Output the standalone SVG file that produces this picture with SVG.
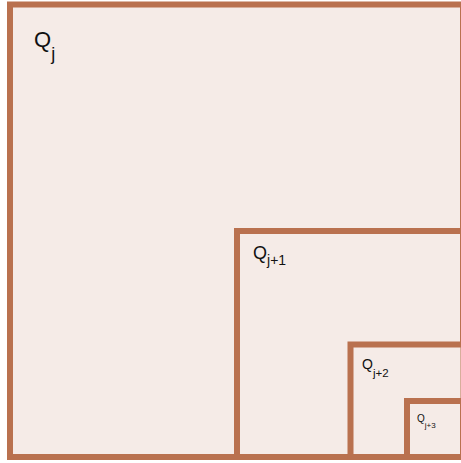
<svg xmlns="http://www.w3.org/2000/svg" width="461" height="463" viewBox="0 0 461 463">
<style>
.sq{fill:#f5ebe7;stroke:#b9714f;stroke-width:6}
.t{font-family:"Liberation Sans",Arial,sans-serif;fill:#111}
</style>
<rect x="0" y="0" width="461" height="463" fill="#ffffff"/>
<g id="Qj"><rect class="sq" x="10" y="4.5" width="453" height="452.5"/>
<text class="t" x="34" y="47" font-size="22">Q<tspan font-size="18" dy="13">j</tspan></text></g>
<g id="Qj1"><rect class="sq" x="237" y="231" width="226" height="226"/>
<text class="t" x="253" y="259" font-size="18">Q<tspan font-size="14" dy="6">j+1</tspan></text></g>
<g id="Qj2"><rect class="sq" x="350.5" y="344.5" width="113" height="112.5"/>
<text class="t" x="362" y="368.5" font-size="14">Q<tspan font-size="11.5" dy="8.5">j+2</tspan></text></g>
<g id="Qj3"><rect class="sq" x="407" y="401" width="56" height="56"/>
<text class="t" x="417" y="422" font-size="10">Q<tspan font-size="8" dy="6">j+3</tspan></text></g>
<g id="connectors"></g>
</svg>
